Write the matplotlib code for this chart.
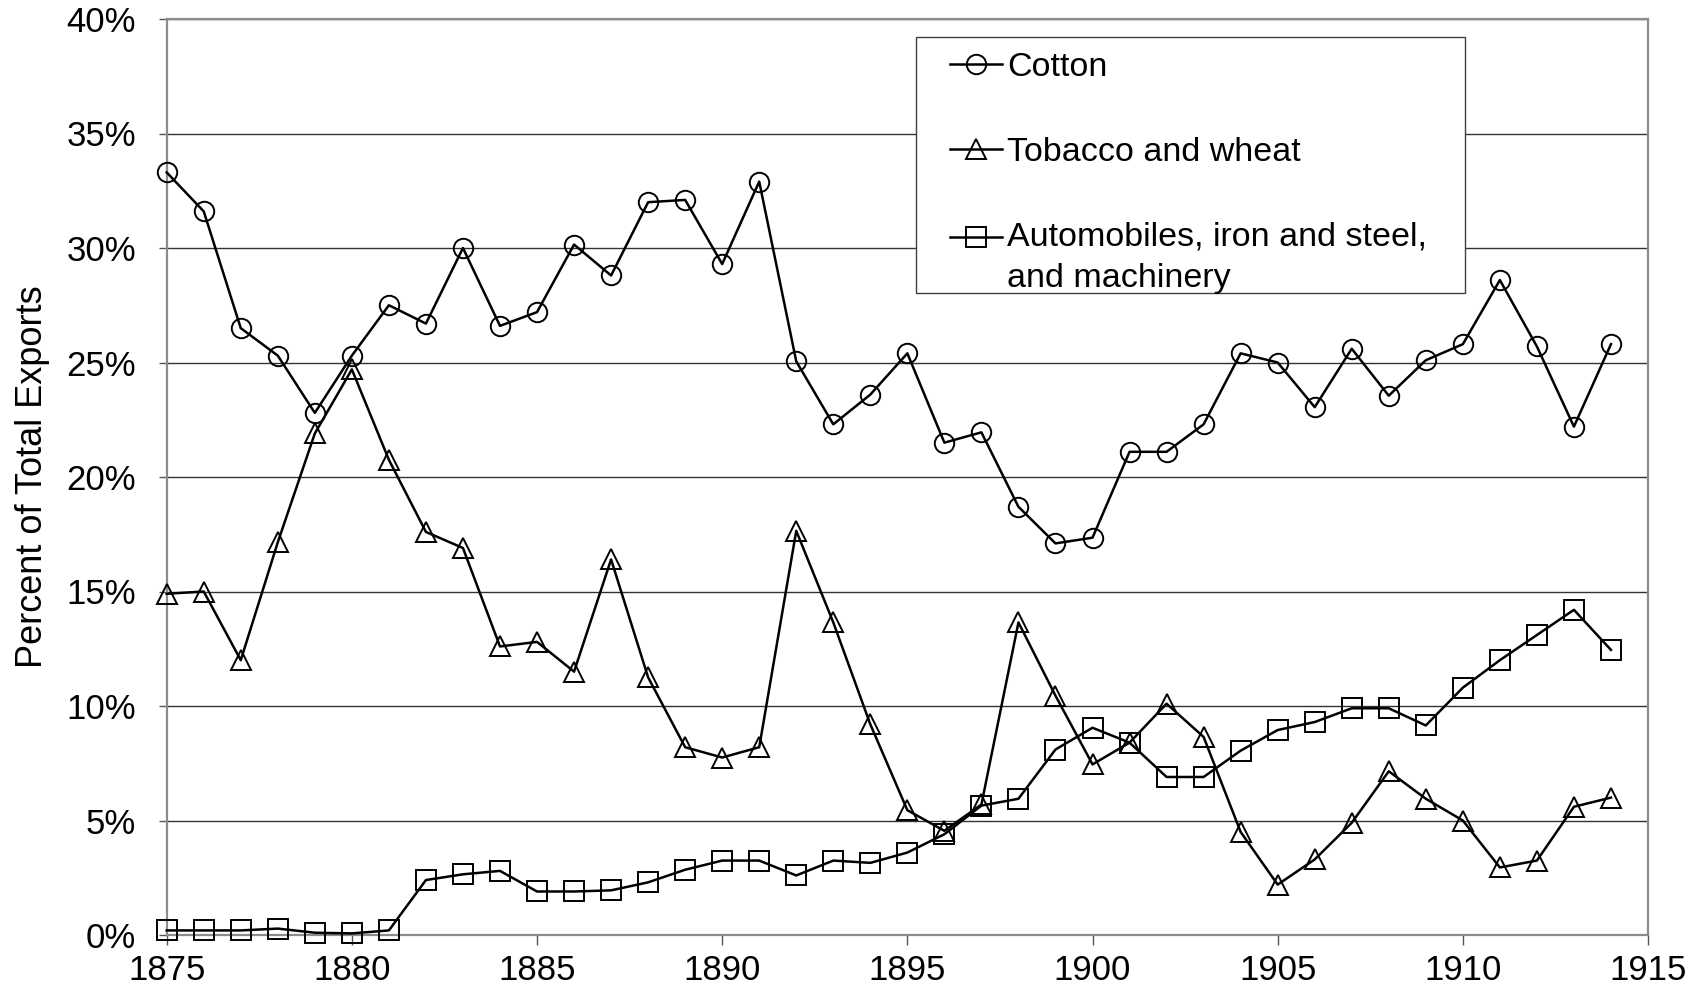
import numpy as np
import matplotlib.pyplot as plt
from matplotlib.patches import Rectangle
from matplotlib.ticker import PercentFormatter, MultipleLocator

plt.rcParams['font.family'] = ['Liberation Sans', 'DejaVu Sans']

# share of total US exports, percent, 1875-1914
years = np.arange(1875, 1915)
cotton = [33.3, 31.6, 26.5, 25.3, 22.8, 25.3, 27.5, 26.7, 30.0, 26.6,
          27.2, 30.15, 28.8, 32.0, 32.1, 29.3, 32.9, 25.05, 22.3, 23.6,
          25.4, 21.5, 21.95, 18.7, 17.1, 17.35, 21.1, 21.1, 22.3, 25.4,
          25.0, 23.05, 25.6, 23.55, 25.1, 25.8, 28.6, 25.7, 22.2, 25.8]
tobacco_wheat = [14.9, 15.0, 12.0, 17.15, 21.9, 24.7, 20.75, 17.6, 16.9, 12.6,
                 12.8, 11.5, 16.4, 11.25, 8.2, 7.75, 8.2, 17.65, 13.65, 9.2,
                 5.45, 4.55, 5.7, 13.65, 10.45, 7.45, 8.4, 10.1, 8.65, 4.5,
                 2.2, 3.3, 4.9, 7.15, 5.95, 5.0, 2.95, 3.25, 5.6, 6.0]
machinery = [0.2, 0.2, 0.2, 0.28, 0.1, 0.07, 0.2, 2.4, 2.65, 2.8,
             1.9, 1.9, 1.95, 2.3, 2.85, 3.25, 3.25, 2.6, 3.25, 3.15,
             3.6, 4.4, 5.65, 5.95, 8.1, 9.05, 8.4, 6.9, 6.9, 8.05,
             8.95, 9.3, 9.9, 9.9, 9.15, 10.8, 12.0, 13.1, 14.2, 12.45]

labels = ['Cotton', 'Tobacco and wheat',
          'Automobiles, iron and steel,\nand machinery']

fig = plt.figure(figsize=(16.99, 10.02), dpi=100)
ax = fig.add_axes([166.7/1699, 1 - 935/1002, 1481.3/1699, 916/1002])

style = dict(color='black', lw=1.8, markersize=14, markerfacecolor='none',
             markeredgewidth=1.4, clip_on=False, zorder=3)
ax.plot(years, cotton, marker='o', label=labels[0], **style)
ax.plot(years, tobacco_wheat, marker='^', label=labels[1], **style)
ax.plot(years, machinery, marker='s', label=labels[2], **style)

ax.set_xlim(1875, 1915)
ax.set_ylim(0, 40)
ax.xaxis.set_major_locator(MultipleLocator(5))
ax.yaxis.set_major_locator(MultipleLocator(5))
ax.yaxis.set_major_formatter(PercentFormatter(xmax=100, decimals=0))
ax.grid(axis='y', color='#333333', lw=1.0, zorder=0)
ax.set_axisbelow(True)

for s in ax.spines.values():
    s.set_color('#8c8c8c')
    s.set_linewidth(1.6)
ax.tick_params(axis='both', labelsize=25, color='#555555', width=1.0)
ax.tick_params(axis='x', length=7, pad=7)
ax.tick_params(axis='y', length=6, pad=16)
ax.set_ylabel('Percent of Total Exports', fontsize=26, labelpad=12)

# legend box drawn by hand (padding is tighter at the bottom than at the top)
ax.add_patch(Rectangle((0.5058, 0.7009), 0.3706, 0.2795, transform=ax.transAxes,
                       facecolor='white', edgecolor='#404040', lw=1.0,
                       clip_on=False, zorder=4))
leg = ax.legend(loc='upper left', bbox_to_anchor=(0.5288, 0.964),
                bbox_transform=ax.transAxes, borderaxespad=0, fontsize=24.5,
                frameon=False, handlelength=1.52, handletextpad=0.16,
                labelspacing=1.58, borderpad=0)
leg.set_zorder(5)
# wider line spacing in the two-line label, handle next to its first line
leg.get_texts()[2].set_linespacing(1.44)
h = leg.legend_handles[2]
h.set_ydata(np.asarray(h.get_ydata()) + 15.1)

fig.savefig('out.png', dpi=100)
